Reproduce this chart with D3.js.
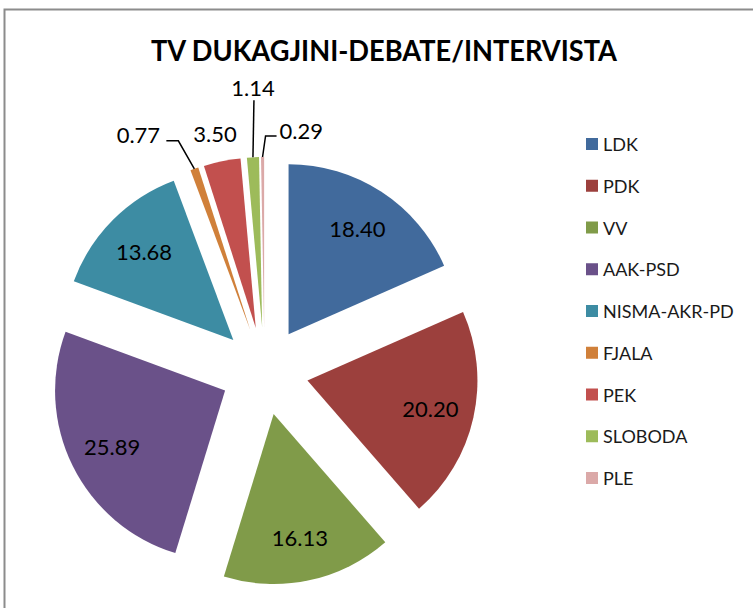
<html>
<head>
<meta http-equiv="Content-type" content="text/html;charset=UTF-8">
<title>TV DUKAGJINI-DEBATE/INTERVISTA</title>
<script src="https://cdn.jsdelivr.net/npm/d3@7"></script>
<style>
    body {
        margin: 0;
        background: #ffffff;
        font-family: 'Lato', 'Open Sans', sans-serif;
        color: #000000;
    }
    #chart svg {
        display: block;
    }
</style>
</head>
<body>

<div id="chart"></div>

<script type="text/javascript">
    // chart data
    var parties = ["LDK", "PDK", "VV", "AAK-PSD", "NISMA-AKR-PD", "FJALA", "PEK", "SLOBODA", "PLE"];
    var shares = [18.40, 20.20, 16.13, 25.89, 13.68, 0.77, 3.50, 1.14, 0.29];
    var valueLabels = ["18.40", "20.20", "16.13", "25.89", "13.68", "0.77", "3.50", "1.14", "0.29"];
    var sliceColors = ["#416a9c", "#9c403d", "#809b49", "#6a5189", "#3d8ca3", "#d0803a", "#c2504e", "#9dbb5a", "#dba9a8"];

    var width = 753, height = 608;
    var cx = 264.5, cy = 371;   // pie centre before explosion
    var radius = 170;
    var explode = 44;
    var labelRadius = 126;

    var svg = d3.select('#chart')
        .append('svg')
        .attr('width', width)
        .attr('height', height);

    // outer chart border (runs off the right and bottom edges)
    svg.append('rect')
        .attr('x', 4.5)
        .attr('y', 9.5)
        .attr('width', 900)
        .attr('height', 800)
        .attr('fill', 'none')
        .attr('stroke', '#8c8c8c')
        .attr('stroke-width', 2);

    // title
    svg.append('text')
        .attr('x', 384)
        .attr('y', 61)
        .attr('text-anchor', 'middle')
        .attr('font-weight', 'bold')
        .attr('font-size', 28)
        .attr('textLength', 466)
        .attr('lengthAdjust', 'spacingAndGlyphs')
        .text('TV DUKAGJINI-DEBATE/INTERVISTA');

    var pie = d3.pie()
        .value(function(d) { return d; })
        .sort(null);

    var arc = d3.arc()
        .innerRadius(0)
        .outerRadius(radius);

    var arcs = pie(shares);

    function dir(d) {
        var a = (d.startAngle + d.endAngle) / 2;
        return [Math.sin(a), -Math.cos(a)];
    }

    var g = svg.append('g')
        .attr('transform', 'translate(' + cx + ',' + cy + ')');

    g.selectAll('path.slice')
        .data(arcs)
        .enter()
        .append('path')
        .attr('class', 'slice')
        .attr('d', arc)
        .attr('fill', function(d, i) { return sliceColors[i]; })
        .attr('transform', function(d) {
            var v = dir(d);
            return 'translate(' + (v[0] * explode) + ',' + (v[1] * explode) + ')';
        });

    // labels inside the big slices
    g.selectAll('text.inside')
        .data(arcs.filter(function(d) { return d.value > 10; }))
        .enter()
        .append('text')
        .attr('class', 'inside')
        .attr('x', function(d) { return dir(d)[0] * (explode + labelRadius); })
        .attr('y', function(d) { return dir(d)[1] * (explode + labelRadius); })
        .attr('text-anchor', 'middle')
        .attr('dominant-baseline', 'central')
        .attr('font-size', 22)
        .text(function(d) { return valueLabels[d.index]; });

    // outside labels for the thin slices: label offset and leader bends from the slice tip
    var outside = {
        5: { dx: -56, dy: -34, anchor: 'middle', leader: [[-16, -28], [-28, -28]] },
        6: { dx: -7,  dy: -28, anchor: 'middle', leader: null },
        7: { dx: 0,   dy: -70, anchor: 'middle', leader: [[1, -57]] },
        8: { dx: 17,  dy: -27, anchor: 'start',  leader: [[3, -21], [14, -21]] }
    };

    arcs.forEach(function(d) {
        var o = outside[d.index];
        if (!o) return;
        var v = dir(d);
        var tx = v[0] * (explode + radius), ty = v[1] * (explode + radius);
        if (o.leader) {
            var pts = [[tx, ty]].concat(o.leader.map(function(p) { return [tx + p[0], ty + p[1]]; }));
            g.append('path')
                .attr('d', d3.line()(pts))
                .attr('fill', 'none')
                .attr('stroke', '#000')
                .attr('stroke-width', 1.5);
        }
        g.append('text')
            .attr('x', tx + o.dx)
            .attr('y', ty + o.dy)
            .attr('text-anchor', o.anchor)
            .attr('dominant-baseline', 'central')
            .attr('font-size', 22)
            .text(valueLabels[d.index]);
    });

    // legend
    var legendY = d3.scalePoint()
        .domain(parties)
        .range([144, 478]);

    var legend = svg.append('g');

    legend.selectAll('rect')
        .data(parties)
        .enter()
        .append('rect')
        .attr('x', 586)
        .attr('y', function(d) { return legendY(d) - 6; })
        .attr('width', 12)
        .attr('height', 12)
        .attr('fill', function(d, i) { return sliceColors[i]; });

    legend.selectAll('text')
        .data(parties)
        .enter()
        .append('text')
        .attr('x', 603)
        .attr('y', function(d) { return legendY(d); })
        .attr('dominant-baseline', 'central')
        .attr('font-size', 18)
        .attr('fill', '#1a1a1a')
        .text(function(d) { return d; });
</script>

</body>
</html>
